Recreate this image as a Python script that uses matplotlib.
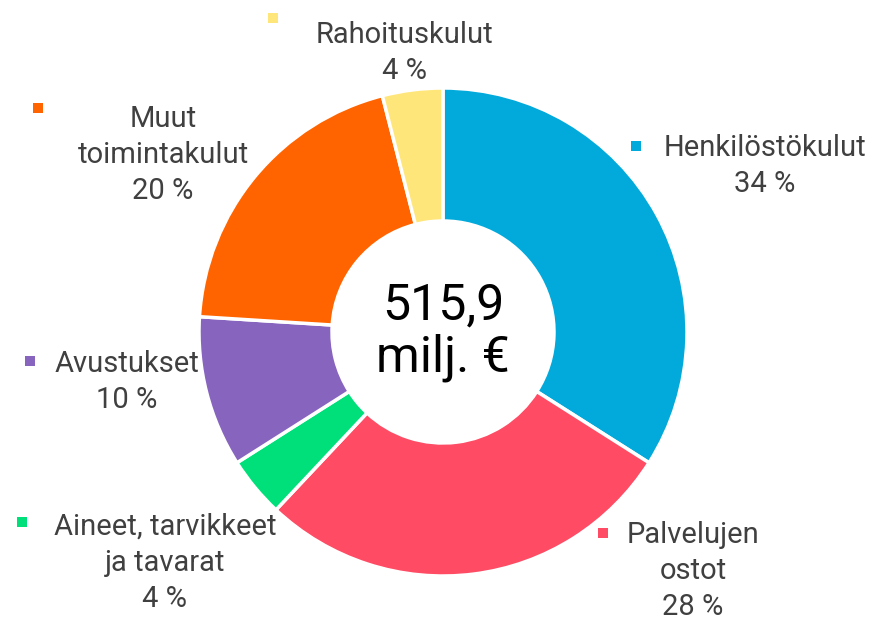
import matplotlib.pyplot as plt
from matplotlib.patches import Rectangle

plt.rcParams['font.family'] = ['Roboto', 'DejaVu Sans']

categories = ["Henkilöstökulut", "Palvelujen\nostot", "Aineet, tarvikkeet\nja tavarat",
              "Avustukset", "Muut\ntoimintakulut", "Rahoituskulut"]
shares = [34, 28, 4, 10, 20, 4]
colors = ["#02AADB", "#FF4B64", "#00E07A", "#8764BE", "#FF6400", "#FFE67A"]
total_text = "515,9\nmilj. €"

W, H = 875, 620
fig = plt.figure(figsize=(W / 100, H / 100), dpi=100)
ax = fig.add_axes([0, 0, 1, 1])
ax.set_xlim(0, W)
ax.set_ylim(0, H)
ax.set_aspect("equal")
ax.axis("off")

cx, cy, r = 443, H - 332, 244
ax.pie(shares, colors=colors, startangle=90, counterclock=False,
       center=(cx, cy), radius=r,
       wedgeprops=dict(width=r - 111, edgecolor="white", linewidth=2.5))
ax.set_xlim(0, W)
ax.set_ylim(0, H)

ax.text(cx, cy, total_text, ha="center", va="center", fontsize=36,
        color="black", linespacing=1.1)

# label positions (text centre x, first line y, marker x, marker y) in pixels from top
label_pos = [(765, 148, 636, 146), (693, 535, 603, 533), (165, 527, 22, 522),
             (127, 364, 30, 361), (163, 119, 38, 108), (405, 35, 273, 18)]
for name, val, col, (tx, ty, mx, my) in zip(categories, shares, colors, label_pos):
    lines = name.split("\n") + [f"{val} %"]
    for i, line in enumerate(lines):
        ax.text(tx, H - (ty + i * 36), line, ha="center", va="center",
                fontsize=21, color="#404040")
    ax.add_patch(Rectangle((mx - 5, H - my - 5), 10, 10, color=col, lw=0))

fig.savefig("out.png", dpi=100)
